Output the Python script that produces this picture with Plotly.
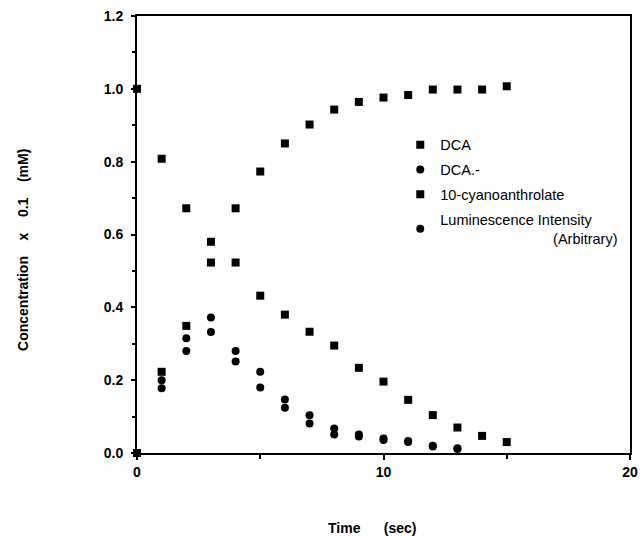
import plotly.graph_objects as go

# Time (sec)
t_sq = list(range(0, 16))
t_ci = list(range(0, 14))

dca = [1.0, 0.808, 0.672, 0.58, 0.523, 0.432, 0.38, 0.333, 0.295, 0.234, 0.196, 0.146, 0.104, 0.07, 0.047, 0.03]
cyano = [0.0, 0.223, 0.349, 0.523, 0.672, 0.773, 0.85, 0.902, 0.943, 0.964, 0.976, 0.983, 0.998, 0.998, 0.998, 1.007]
dca_anion = [0.0, 0.2, 0.315, 0.372, 0.28, 0.223, 0.147, 0.104, 0.067, 0.051, 0.04, 0.033, 0.02, 0.013]
lum = [0.0, 0.178, 0.28, 0.332, 0.251, 0.18, 0.124, 0.081, 0.051, 0.045, 0.036, 0.03, 0.018, 0.011]

NB = "\u00a0"
names = ["DCA", "DCA.-", "10-cyanoanthrolate",
         "Luminescence Intensity<br>" + NB * 28 + "(Arbitrary)"]
x_title = "Time" + NB * 6 + "(sec)"
y_title = "Concentration" + NB * 4 + "x" + NB * 4 + "0.1" + NB * 4 + "(mM)"

fig = go.Figure()
series = [(t_sq, dca, "square", 8), (t_ci, dca_anion, "circle", 8),
          (t_sq, cyano, "square", 8), (t_ci, lum, "circle", 8)]
for i, (x, y, sym, sz) in enumerate(series):
    fig.add_trace(go.Scatter(
        x=x, y=y, mode="markers", name=names[i], legendgroup=str(i),
        marker=dict(symbol=sym, size=sz, color="black", line=dict(width=0)),
        cliponaxis=False,
    ))

font_fam = "Liberation Sans, Arial, sans-serif"
fig.update_layout(
    width=642, height=536,
    margin=dict(l=137, r=12, t=16, b=83),
    paper_bgcolor="white", plot_bgcolor="white",
    font=dict(family=font_fam, color="black", size=12),
    legend=dict(x=0.534, y=0.742, xanchor="left", yanchor="top",
                traceorder="grouped", tracegroupgap=3,
                font=dict(size=14.5, family=font_fam, color="black"),
                bgcolor="rgba(0,0,0,0)"),
    xaxis=dict(range=[0, 20], dtick=10, tick0=0, showline=True, linecolor="black",
               linewidth=2, mirror=True, ticks="outside", ticklen=5, tickwidth=1.5,
               tickcolor="black", showgrid=False, zeroline=False, automargin=False,
               minor=dict(dtick=5, ticks="outside", ticklen=4, tickcolor="black"),
               tickfont=dict(size=14, weight="bold", family=font_fam)),
    yaxis=dict(range=[0, 1.2], dtick=0.2, tick0=0, tickformat=".1f", showline=True,
               linecolor="black", linewidth=2, mirror=True, ticks="outside", ticklen=4,
               tickwidth=1.5, tickcolor="black", showgrid=False, zeroline=False,
               automargin=False, ticklabelstandoff=5,
               minor=dict(dtick=0.1, ticks="outside", ticklen=3, tickcolor="black"),
               tickfont=dict(size=14, weight="bold", family=font_fam)),
    annotations=[
        dict(text=x_title, xref="paper", yref="paper", x=0.477, y=-0.172,
             xanchor="center", yanchor="middle", showarrow=False,
             font=dict(size=14, weight="bold", family=font_fam)),
        dict(text=y_title, xref="paper", yref="paper", x=-0.231, y=0.465,
             xanchor="center", yanchor="middle", showarrow=False, textangle=-90,
             font=dict(size=14, weight="bold", family=font_fam)),
    ],
)

fig.write_html(
    "out.html",
    config={"displayModeBar": False},
    post_script="document.body.style.margin='0';document.body.style.overflow='hidden';",
)
